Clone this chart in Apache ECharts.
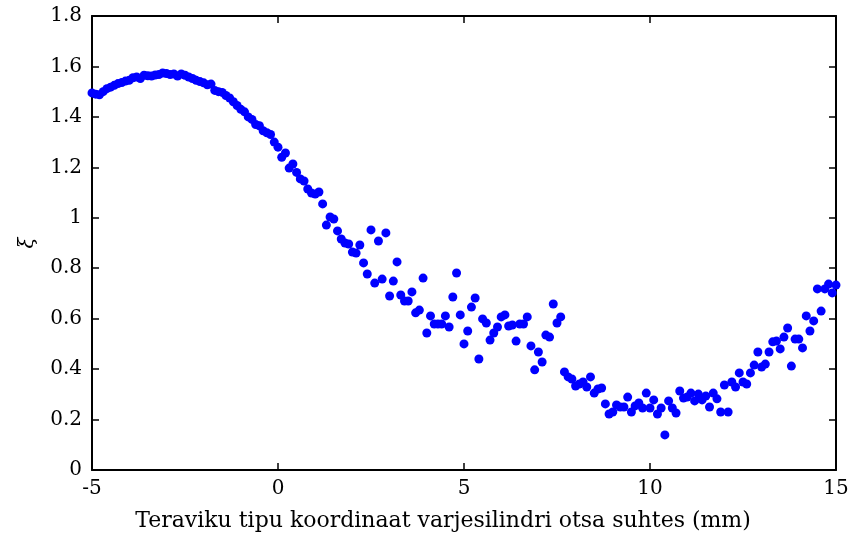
<!DOCTYPE html>
<html>
<head>
<meta charset="utf-8">
<script src="https://cdn.jsdelivr.net/npm/echarts@6/dist/echarts.min.js"></script>
<style>
html,body{margin:0;padding:0;background:#fff;}
#chart{width:856px;height:537px;}
</style>
</head>
<body>
<div id="chart"></div>
<script>
// Tip coordinate relative to the shadow-cylinder end (mm)
const xValues = [
 -5.0,-4.9,-4.8,-4.7,-4.6,-4.5,-4.4,-4.3,-4.2,-4.1,
 -4.0,-3.9,-3.8,-3.7,-3.6,-3.5,-3.4,-3.3,-3.2,-3.1,
 -3.0,-2.9,-2.8,-2.7,-2.6,-2.5,-2.4,-2.3,-2.2,-2.1,
 -2.0,-1.9,-1.8,-1.7,-1.6,-1.5,-1.4,-1.3,-1.2,-1.1,
 -1.0,-0.9,-0.8,-0.7,-0.6,-0.5,-0.4,-0.3,-0.2,-0.1,
 0.0,0.1,0.2,0.3,0.4,0.5,0.6,0.7,0.8,0.9,
 1.0,1.1,1.2,1.3,1.4,1.5,1.6,1.7,1.8,1.9,
 2.0,2.1,2.2,2.3,2.4,2.5,2.6,2.7,2.8,2.9,
 3.0,3.1,3.2,3.3,3.4,3.5,3.6,3.7,3.8,3.9,
 4.0,4.1,4.2,4.3,4.4,4.5,4.6,4.7,4.8,4.9,
 5.0,5.1,5.2,5.3,5.4,5.5,5.6,5.7,5.8,5.9,
 6.0,6.1,6.2,6.3,6.4,6.5,6.6,6.7,6.8,6.9,
 7.0,7.1,7.2,7.3,7.4,7.5,7.6,7.7,7.8,7.9,
 8.0,8.1,8.2,8.3,8.4,8.5,8.6,8.7,8.8,8.9,
 9.0,9.1,9.2,9.3,9.4,9.5,9.6,9.7,9.8,9.9,
 10.0,10.1,10.2,10.3,10.4,10.5,10.6,10.7,10.8,10.9,
 11.0,11.1,11.2,11.3,11.4,11.5,11.6,11.7,11.8,11.9,
 12.0,12.1,12.2,12.3,12.4,12.5,12.6,12.7,12.8,12.9,
 13.0,13.1,13.2,13.3,13.4,13.5,13.6,13.7,13.8,13.9,
 14.0,14.1,14.2,14.3,14.4,14.5,14.6,14.7,14.8,14.9,
 15.0
];
// xi values
const xiValues = [
 1.495,1.49,1.488,1.50,1.512,1.518,1.525,1.532,1.536,1.542,
 1.545,1.555,1.558,1.552,1.565,1.563,1.562,1.566,1.568,1.574,
 1.572,1.568,1.57,1.562,1.57,1.565,1.558,1.552,1.545,1.54,
 1.535,1.527,1.53,1.505,1.50,1.497,1.485,1.475,1.46,1.445,
 1.43,1.42,1.40,1.39,1.37,1.365,1.345,1.337,1.33,1.30,
 1.28,1.24,1.257,1.197,1.213,1.18,1.154,1.146,1.114,1.098,
 1.094,1.102,1.055,0.971,1.003,0.995,0.948,0.916,0.90,0.896,
 0.864,0.86,0.892,0.821,0.777,0.952,0.741,0.908,0.757,0.94,
 0.69,0.749,0.825,0.694,0.67,0.67,0.706,0.623,0.634,0.761,
 0.543,0.611,0.579,0.579,0.579,0.611,0.567,0.686,0.781,0.615,
 0.50,0.551,0.646,0.682,0.44,0.599,0.583,0.515,0.543,0.567,
 0.607,0.615,0.571,0.575,0.511,0.579,0.579,0.607,0.492,0.397,
 0.468,0.428,0.535,0.527,0.658,0.583,0.607,0.389,0.369,0.361,
 0.333,0.341,0.349,0.329,0.369,0.305,0.321,0.325,0.262,0.222,
 0.23,0.258,0.25,0.25,0.289,0.23,0.254,0.266,0.246,0.305,
 0.246,0.278,0.222,0.246,0.139,0.274,0.246,0.226,0.313,0.285,
 0.289,0.305,0.274,0.301,0.278,0.293,0.25,0.305,0.282,0.23,
 0.337,0.23,0.349,0.329,0.385,0.349,0.341,0.385,0.416,0.468,
 0.408,0.42,0.468,0.508,0.511,0.48,0.527,0.563,0.412,0.519,
 0.519,0.484,0.611,0.551,0.591,0.718,0.63,0.718,0.737,0.702,
 0.733
];
const xTicks = [-5, 0, 5, 10, 15];
const yTicks = [0, 0.2, 0.4, 0.6, 0.8, 1, 1.2, 1.4, 1.6, 1.8];
const xTitle = 'Teraviku tipu koordinaat varjesilindri otsa suhtes (mm)';
const yTitle = 'ξ';

const FONT = 'DejaVu Serif';
const points = xValues.map((x, i) => [x, xiValues[i]]);

const lineStyle = { color: '#000', width: 2 };
const tickStyle = { color: '#000', width: 1.5 };

function xAxisDef(pos, showLabel) {
  return {
    type: 'value', position: pos,
    min: xTicks[0], max: xTicks[xTicks.length - 1], interval: xTicks[1] - xTicks[0],
    axisLine: { show: true, onZero: false, lineStyle },
    axisTick: { show: true, inside: true, length: 7, lineStyle: tickStyle },
    axisLabel: { show: showLabel, color: '#000', fontFamily: FONT, fontSize: 20, margin: 9 },
    splitLine: { show: false },
    name: showLabel ? xTitle : '', nameLocation: 'middle', nameGap: 40,
    nameTextStyle: { color: '#000', fontFamily: FONT, fontSize: 22, padding: [0, 42, 0, 0] }
  };
}
function yAxisDef(pos, showLabel) {
  return {
    type: 'value', position: pos,
    min: yTicks[0], max: yTicks[yTicks.length - 1], interval: 0.2,
    axisLine: { show: true, onZero: false, lineStyle },
    axisTick: { show: true, inside: true, length: 7, lineStyle: tickStyle },
    axisLabel: { show: showLabel, color: '#000', fontFamily: FONT, fontSize: 20, margin: 10,
      formatter: v => String(Math.round(v * 10) / 10) },
    splitLine: { show: false },
    name: showLabel ? yTitle : '', nameLocation: 'middle', nameGap: 54, nameRotate: 90,
    nameTextStyle: { color: '#000', fontFamily: FONT, fontSize: 20, fontStyle: 'italic' }
  };
}

const chart = echarts.init(document.getElementById('chart'), null, { renderer: 'canvas' });
chart.setOption({
  animation: false,
  backgroundColor: '#fff',
  grid: { left: 92, right: 20, top: 16, bottom: 67 },
  xAxis: [xAxisDef('bottom', true), xAxisDef('top', false)],
  yAxis: [yAxisDef('left', true), yAxisDef('right', false)],
  series: [{
    type: 'scatter', xAxisIndex: 0, yAxisIndex: 0,
    data: points, symbol: 'circle', symbolSize: 9,
    itemStyle: { color: '#0000ff', opacity: 1 },
    emphasis: { disabled: true }
  }]
});
</script>
</body>
</html>
